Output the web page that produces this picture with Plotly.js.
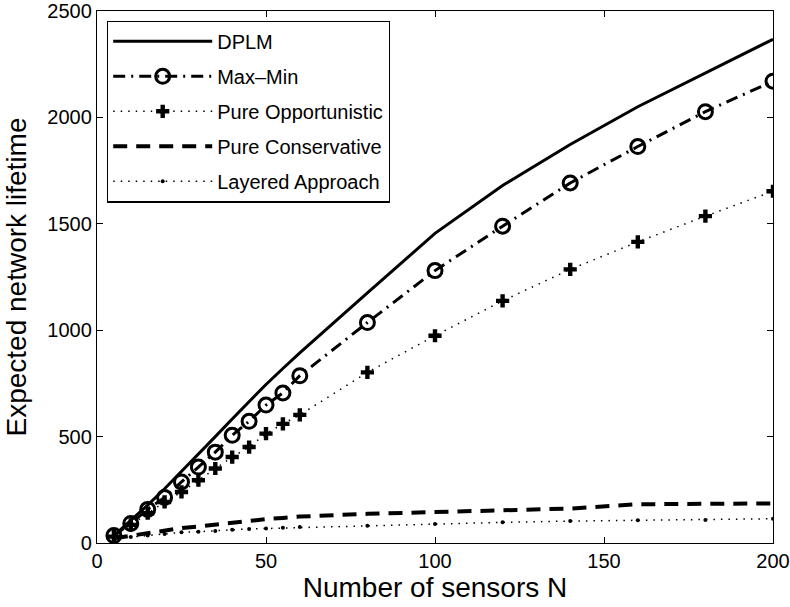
<!DOCTYPE html>
<html>
<head>
<meta charset="utf-8">
<script src="https://cdn.plot.ly/plotly-3.0.1.min.js"></script>
<style>html,body{margin:0;padding:0;background:#fff;}#chart{width:790px;height:607px;}</style>
</head>
<body>
<div id="chart"></div>
<script>
var xN = [5, 10, 15, 20, 25, 30, 35, 40, 45, 50, 55, 60, 80, 100, 120, 140, 160, 180, 200];
var dplm = [35, 105, 178, 255, 335, 417, 500, 583, 666, 745, 820, 893, 1175, 1455, 1680, 1873, 2050, 2210, 2367];
var maxMin = [35, 92, 158, 214, 287, 357, 427, 506, 572, 648, 705, 786, 1036, 1280, 1489, 1692, 1863, 2027, 2170];
var pureOpp = [30, 85, 140, 193, 240, 295, 350, 404, 451, 514, 560, 602, 802, 974, 1138, 1286, 1415, 1536, 1653];
var pureCons = [22, 35, 48, 60, 70, 78, 87, 96, 104, 112, 118, 124, 137, 145, 152, 162, 182, 184, 186];
var layered = [20, 28, 35, 42, 50, 53, 56, 62, 66, 68, 72, 75, 81, 89, 97, 103, 107, 108, 114];
var seriesNames = ['DPLM', 'Max\u2013Min', 'Pure Opportunistic', 'Pure Conservative', 'Layered Approach'];
var xTicks = [0, 50, 100, 150, 200];
var yTicks = [0, 500, 1000, 1500, 2000, 2500];

var traces = [
  {x: xN, y: dplm, name: seriesNames[0], legendgroup: 'a', mode: 'lines',
   line: {color: '#000', width: 3}},
  {x: xN, y: maxMin, name: seriesNames[1], legendgroup: 'b', mode: 'lines+markers',
   line: {color: '#000', width: 3, dash: '12px,6px,2px,6px'},
   marker: {symbol: 'circle-open', size: 14, color: '#000', line: {width: 3, color: '#000'}}},
  {x: xN, y: pureOpp, name: seriesNames[2], legendgroup: 'c', mode: 'lines+markers',
   line: {color: '#000', width: 1.5, dash: '1.5px,6px'},
   marker: {symbol: 'cross', size: 11, color: '#000'}},
  {x: xN, y: pureCons, name: seriesNames[3], legendgroup: 'd', mode: 'lines',
   line: {color: '#000', width: 4, dash: '14px,9px'}},
  {x: xN, y: layered, name: seriesNames[4], legendgroup: 'e', mode: 'lines+markers',
   line: {color: '#000', width: 1.5, dash: '1.5px,6px'},
   marker: {symbol: 'circle', size: 4, color: '#000'}}
];

var fontFam = 'Liberation Sans, Arial, Helvetica, sans-serif';
var layout = {
  width: 790, height: 607,
  margin: {l: 97, r: 17, t: 11, b: 64},
  paper_bgcolor: '#fff', plot_bgcolor: '#fff',
  font: {family: fontFam, color: '#000', size: 20},
  showlegend: true,
  legend: {
    x: 0.0148, y: 0.982, xanchor: 'left', yanchor: 'top',
    bgcolor: '#fff', bordercolor: '#000', borderwidth: 1.2,
    font: {family: fontFam, size: 20, color: '#000'},
    itemwidth: 99, tracegroupgap: 6, traceorder: 'grouped'
  },
  xaxis: {
    range: [0, 200], tickvals: xTicks, ticktext: xTicks.map(String),
    ticks: 'inside', ticklen: 6, tickcolor: '#000', tickwidth: 1,
    showline: true, linecolor: '#000', linewidth: 1.2, mirror: 'ticks',
    showgrid: false, zeroline: false, ticklabeloverflow: 'allow',
    tickfont: {family: fontFam, size: 20, color: '#000'},
    title: {text: 'Number of sensors N', font: {family: fontFam, size: 28, color: '#000'}, standoff: 4}
  },
  yaxis: {
    range: [0, 2500], tickvals: yTicks, ticktext: yTicks.map(String),
    ticks: 'inside', ticklen: 6, tickcolor: '#000', tickwidth: 1,
    showline: true, linecolor: '#000', linewidth: 1.2, mirror: 'ticks',
    showgrid: false, zeroline: false, ticklabeloverflow: 'allow',
    tickfont: {family: fontFam, size: 20, color: '#000'},
    title: {text: 'Expected network lifetime', font: {family: fontFam, size: 28, color: '#000'}, standoff: 12}
  }
};
Plotly.newPlot('chart', traces, layout, {displayModeBar: false, staticPlot: true});
</script>
</body>
</html>
